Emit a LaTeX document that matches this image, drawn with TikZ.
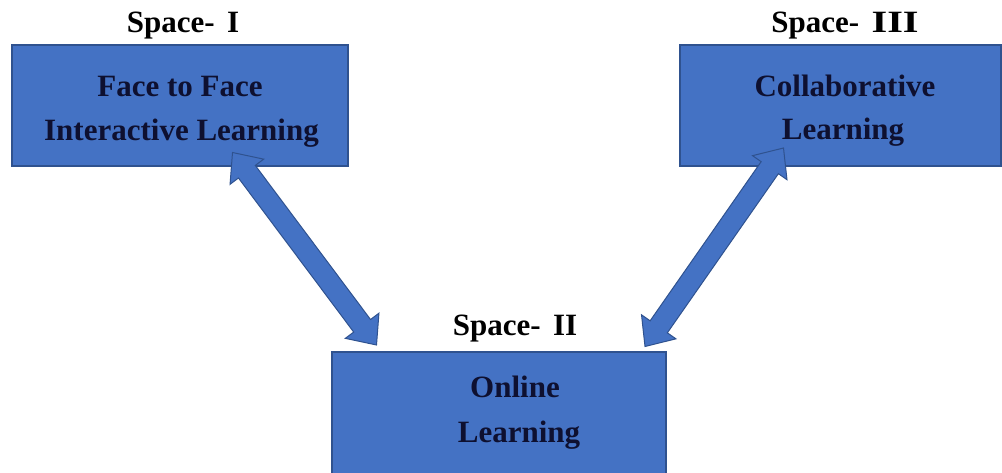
\documentclass[tikz,border=0pt]{standalone}
\usepackage{fontspec}
\setmainfont{Liberation Serif}
\usetikzlibrary{calc}

\definecolor{boxblue}{HTML}{4472C4}
\definecolor{boxedge}{HTML}{2F528F}
\definecolor{ink}{HTML}{0E1030}

\tikzset{
  spacebox/.style={draw=boxedge, fill=boxblue, line width=1.3pt,
    minimum width=#1, minimum height=121pt, inner sep=0pt, outer sep=0pt},
  boxtext/.style={anchor=base, inner sep=0pt, text=ink,
    font=\fontsize{31pt}{44pt}\selectfont\bfseries},
  spacelabel/.style={anchor=base, inner sep=0pt, text=black,
    font=\fontsize{31pt}{44pt}\selectfont\bfseries},
  fatarrow/.style={draw=boxedge, fill=boxblue, line width=1pt, line join=miter}
}

% head length, head half-width, shaft half-width of the two-way arrows
\newcommand\arrowheadlen{24pt}
\newcommand\arrowheadhalf{21pt}
\newcommand\arrowshafthalf{10.5pt}

% two-headed block arrow between two named points
\newcommand\twowayarrow[3]{%
  \coordinate (#1-ha) at ($(#2)!\arrowheadlen!(#3)$);
  \coordinate (#1-hb) at ($(#3)!\arrowheadlen!(#2)$);
  \draw[fatarrow] (#2)
    -- ($(#1-ha)!\arrowheadhalf!90:(#3)$)
    -- ($(#1-ha)!\arrowshafthalf!90:(#3)$)
    -- ($(#1-hb)!\arrowshafthalf!-90:(#2)$)
    -- ($(#1-hb)!\arrowheadhalf!-90:(#2)$)
    -- (#3)
    -- ($(#1-hb)!\arrowheadhalf!90:(#2)$)
    -- ($(#1-hb)!\arrowshafthalf!90:(#2)$)
    -- ($(#1-ha)!\arrowshafthalf!-90:(#3)$)
    -- ($(#1-ha)!\arrowheadhalf!-90:(#3)$)
    -- cycle;}

\begin{document}
\begin{tikzpicture}[x=1pt, y=-1pt]
  \useasboundingbox (0,0) rectangle (1002,473);
  \clip (0,0) rectangle (1002,473);

  % the three learning spaces
  \node[spacebox=336pt] (f2f) at (180,105.5) {};
  \node[spacebox=321pt] (collab) at (840.5,105.5) {};
  \node[spacebox=334pt, minimum height=128pt] (online) at (499,416) {};

  % arrow end points
  \coordinate (f2f-tip) at ($(f2f.south west)+(220.5,-13.5)$);
  \coordinate (online-tipl) at ($(online.north west)+(44.5,-7)$);
  \coordinate (collab-tip) at ($(collab.south west)+(103.5,-18)$);
  \coordinate (online-tipr) at ($(online.north east)+(-21,-5.5)$);

  \twowayarrow{left}{f2f-tip}{online-tipl}
  \twowayarrow{right}{collab-tip}{online-tipr}

  % box texts
  \node[boxtext] (f2f-a) at (180,97) {Face to Face};
  \node[boxtext] (f2f-b) at (181.5,141) {Interactive Learning};
  \node[boxtext] (collab-a) at (845,97) {Collaborative};
  \node[boxtext] (collab-b) at (843,140) {Learning};
  \node[boxtext] (online-a) at (515,397) {Online};
  \node[boxtext] (online-b) at (519,442) {Learning};

  % space captions
  \node[spacelabel] (cap1) at (183,33) {Space-\hspace{0.4em}I};
  \node[spacelabel] (cap3) at (845,33) {Space-\hspace{0.4em}\scalebox{1.3}[1]{III}};
  \node[spacelabel] (cap2) at (515,335) {Space-\hspace{0.4em}II};
\end{tikzpicture}
\end{document}
